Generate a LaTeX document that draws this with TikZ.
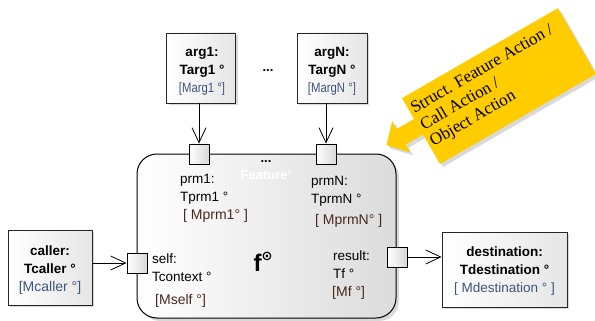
\documentclass[tikz,border=0pt]{standalone}
\usepackage{fontspec}
\usepackage{graphicx}
\setmainfont{Liberation Sans}
\newfontfamily\yserif{Liberation Serif}
\newfontfamily\dejavu{DejaVu Sans}
\usetikzlibrary{arrows.meta,shadows}
\definecolor{mbox}{RGB}{60,85,125}
\definecolor{mcolin}{RGB}{75,40,25}
\definecolor{yel}{RGB}{255,204,0}
\begin{document}
\begin{tikzpicture}[x=1pt,y=-1pt,
  box/.style={draw=black!85, line width=0.8pt, left color=white, right color=black!10,
    drop shadow={opacity=0.3, shadow xshift=2pt, shadow yshift=-2pt}, inner sep=0pt},
  boxtxt/.style={align=center, inner sep=0pt, font=\bfseries\fontsize{13.5}{18}\selectfont},
  port/.style={draw=black, line width=0.8pt, minimum size=20pt, inner sep=0pt,
    left color=white, right color=black!15},
  arr/.style={line width=0.8pt, -{Straight Barb[length=15pt,width=14pt]}},
  lbl/.style={anchor=west, inner sep=0pt, font=\fontsize{13.5}{15}\selectfont},
  mi/.style={anchor=west, inner sep=0pt, text=mcolin, font=\fontsize{14}{15}\selectfont},
]
\useasboundingbox (0,0) rectangle (595,321);

% main feature rectangle
\node[draw=black, line width=1pt, rounded corners=20pt, minimum width=259pt, minimum height=164pt,
  left color=white, right color=black!14,
  drop shadow={opacity=0.3, shadow xshift=3pt, shadow yshift=-3pt}] (feat) at (266.5,236) {};

% argument boxes
\node[box, minimum width=69pt, minimum height=70pt] (arg1) at (201,68) {};
\node[boxtxt] (arg1txt) at (202,71)
  {arg1:\\Targ1 °\\{\mdseries\color{mbox}\fontsize{13.5}{12}\selectfont\scalebox{0.84}[1]{[Marg1 °]}}};
\node[box, minimum width=70pt, minimum height=70pt] (argN) at (332,68) {};
\node[boxtxt] (argNtxt) at (332,71)
  {argN:\\TargN °\\{\mdseries\color{mbox}\fontsize{13.5}{12}\selectfont\scalebox{0.84}[1]{[MargN °]}}};
\node[font=\bfseries\fontsize{13}{13}\selectfont, inner sep=0pt] (dots1) at (268,71) {...};

% caller / destination
\node[box, minimum width=84pt, minimum height=75pt] (caller) at (50,267.5) {};
\node[boxtxt] (callertxt) at (50,270)
  {caller:\\Tcaller °\\{\mdseries\color{mbox}\fontsize{14}{12}\selectfont[Mcaller °]}};
\node[box, minimum width=125pt, minimum height=75pt] (dest) at (504.5,269.5) {};
\node[boxtxt] (desttxt) at (504.5,271)
  {destination:\\Tdestination °\\{\mdseries\color{mbox}\fontsize{13.5}{12}\selectfont[ Mdestination ° ]}};

% ports
\node[port] (p1) at (199,154) {};
\node[port] (pN) at (326,154) {};
\node[port] (self) at (137,263) {};
\node[port] (result) at (397,257) {};

% connectors
\draw[arr] (arg1.south -| p1) -- (p1.north);
\draw[arr] (argN.south -| pN) -- (pN.north);
\draw[arr] (caller.east |- self) -- (self.west);
\draw[arr] (result.east) -- (dest.west |- result);

% texts inside the feature
\node[font=\bfseries\fontsize{13}{13}\selectfont, inner sep=0pt] (dots2) at (266,162) {...};
\node[font=\bfseries\fontsize{13}{13}\selectfont, inner sep=0pt, text=white] (fname) at (266,175) {Feature'};

\node[lbl] (t1) at (180,180) {prm1:};
\node[lbl] (t2) at (180,198) {Tprm1 °};
\node[mi]  (t3) at (183,216) {[ Mprm1° ]};

\node[lbl] (t4) at (311,182) {prmN:};
\node[lbl] (t5) at (311,200) {TprmN °};
\node[mi]  (t6) at (315,221) {[ MprmN° ]};

\node[lbl] (t7) at (152,259) {self:};
\node[lbl] (t8) at (152,277) {Tcontext °};
\node[mi]  (t9) at (155,301) {[Mself °]};

\node[lbl] (t10) at (333,256) {result:};
\node[lbl] (t11) at (333,274) {Tf °};
\node[mi]  (t12) at (332,293) {[Mf °]};

\node[inner sep=0pt, anchor=base] (fsym) at (263,271)
  {{\bfseries\fontsize{24}{24}\selectfont f}\raisebox{11pt}{\dejavu\bfseries\fontsize{13}{13}\selectfont ⊙}};

% yellow callout arrow
\begin{scope}[shift={(440,164)}, rotate=30]
  \path[fill=yel, drop shadow={opacity=0.3, shadow xshift=3pt, shadow yshift=-3pt}]
    (0,0) -- (180,0) -- (180,-76) -- (0,-76) -- (0,-52) -- (-20,-52) -- (-20,-61)
    -- (-37,-43) -- (-20,-25) -- (-20,-34) -- (0,-34) -- cycle;
  \node[anchor=west, transform shape, align=left, inner sep=0pt,
    font=\yserif\fontsize{17}{19}\selectfont] (ytext) at (3,-41)
    {Struct. Feature Action /\\Call Action /\\Object Action};
\end{scope}
\end{tikzpicture}
\end{document}
